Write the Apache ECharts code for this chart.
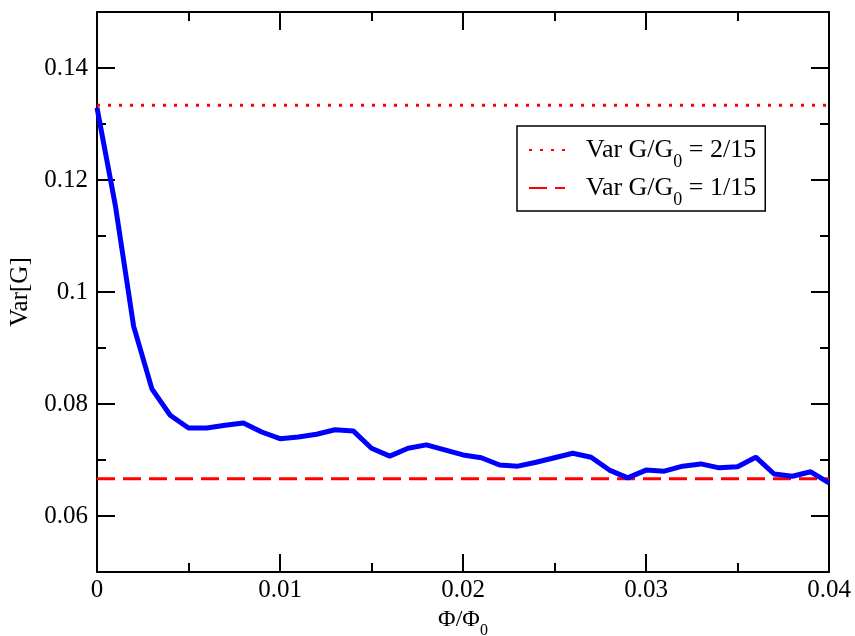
<!DOCTYPE html>
<html>
<head>
<meta charset="utf-8">
<script src="https://cdn.jsdelivr.net/npm/echarts@6/dist/echarts.min.js"></script>
<style>
  html, body { margin: 0; padding: 0; background: #fff; }
  #chart { width: 855px; height: 636px; }
</style>
</head>
<body>
<div id="chart"></div>
<script>
// Flux values Φ/Φ0 and the variance of the conductance at each one
const phi = [
  0.000, 0.001, 0.002, 0.003, 0.004, 0.005, 0.006, 0.007, 0.008, 0.009,
  0.010, 0.011, 0.012, 0.013, 0.014, 0.015, 0.016, 0.017, 0.018, 0.019,
  0.020, 0.021, 0.022, 0.023, 0.024, 0.025, 0.026, 0.027, 0.028, 0.029,
  0.030, 0.031, 0.032, 0.033, 0.034, 0.035, 0.036, 0.037, 0.038, 0.039,
  0.040
];
const varG = [
  0.1329, 0.1155, 0.0939, 0.0827, 0.0780, 0.0757, 0.0757, 0.0762, 0.0766, 0.0750,
  0.0738, 0.0741, 0.0746, 0.0754, 0.0752, 0.0721, 0.0707, 0.0721, 0.0727, 0.0718,
  0.0709, 0.0704, 0.0691, 0.0689, 0.0696, 0.0704, 0.0712, 0.0705, 0.0682, 0.0668,
  0.0682, 0.0680, 0.0689, 0.0693, 0.0686, 0.0688, 0.0705, 0.0675, 0.0671, 0.0679,
  0.0659
];

// Reference levels Var G/G0 = 2/15 and 1/15, spanning the flux range
const refSpan = [0.0, 0.04];
const upperLevel = 2 / 15;
const lowerLevel = 1 / 15;

// Axis ticks
const xTicks = [0, 0.01, 0.02, 0.03, 0.04];
const yMajorTicks = [0.06, 0.08, 0.1, 0.12, 0.14];

const FONT = "'Liberation Serif', 'Times New Roman', serif";
const BLACK = '#000';

const curve = phi.map((p, i) => [p, varG[i]]);
const upperLine = refSpan.map(p => [p, upperLevel]);
const lowerLine = refSpan.map(p => [p, lowerLevel]);

const legendText = {
  upper: '{t|Var G/G}{s|0}{t| = 2/15}',
  lower: '{t|Var G/G}{s|0}{t| = 1/15}'
};

const axisLineStyle = { show: true, lineStyle: { color: BLACK, width: 2 } };

function xAxisBase(position) {
  return {
    type: 'value', position: position, min: 0, max: 0.04, interval: 0.01,
    axisLine: axisLineStyle,
    axisTick: { show: true, inside: true, length: 18, lineStyle: { color: BLACK, width: 2 } },
    minorTick: { show: true, splitNumber: 2, length: 9, lineStyle: { color: BLACK, width: 2 } },
    splitLine: { show: false },
    minorSplitLine: { show: false }
  };
}

function yMinorAxis(position) {
  return {
    type: 'value', position: position, min: 0.05, max: 0.15, interval: 0.01,
    axisLine: { show: false },
    axisTick: { show: true, inside: true, length: 9, lineStyle: { color: BLACK, width: 2 } },
    axisLabel: { show: false },
    splitLine: { show: false }
  };
}

function yMajorAxis(position, withLabels) {
  return {
    type: 'value', position: position, min: 0.05, max: 0.15, interval: 0.01,
    axisLine: axisLineStyle,
    axisTick: { show: true, inside: true, length: 18, customValues: yMajorTicks,
                lineStyle: { color: BLACK, width: 2 } },
    axisLabel: withLabels
      ? { show: true, customValues: yMajorTicks, color: BLACK, fontFamily: FONT, fontSize: 25, margin: 9 }
      : { show: false },
    splitLine: { show: false }
  };
}

const chart = echarts.init(document.getElementById('chart'), null, { renderer: 'canvas' });

const xBottom = xAxisBase('bottom');
xBottom.axisLabel = {
  show: true, customValues: xTicks, color: BLACK, fontFamily: FONT, fontSize: 25, margin: 6
};
xBottom.name = '{a|Φ/Φ}{b|0}';
xBottom.nameLocation = 'middle';
xBottom.nameGap = 22;
xBottom.nameTextStyle = {
  color: BLACK,
  rich: {
    a: { fontFamily: FONT, fontSize: 24, color: BLACK },
    b: { fontFamily: FONT, fontSize: 16, color: BLACK, padding: [22, 0, 0, 0] }
  }
};

const xTop = xAxisBase('top');
xTop.axisLabel = { show: false };

const yLeft = yMajorAxis('left', true);
yLeft.name = 'Var[G]';
yLeft.nameLocation = 'middle';
yLeft.nameGap = 58;
yLeft.nameTextStyle = { color: BLACK, fontFamily: FONT, fontSize: 25 };

chart.setOption({
  animation: false,
  backgroundColor: '#fff',
  grid: { left: 97, right: 26, top: 12, bottom: 64, containLabel: false, outerBoundsMode: 'none' },
  legend: {
    left: 517, top: 126, orient: 'vertical',
    data: ['upper', 'lower'],
    formatter: name => legendText[name],
    itemWidth: 36, itemHeight: 14, itemGap: 4,
    padding: [11, 9, 2, 11],
    borderColor: BLACK, borderWidth: 1.5, borderRadius: 0,
    backgroundColor: '#fff',
    selectedMode: false,
    itemStyle: { opacity: 0, color: 'rgba(0,0,0,0)', borderWidth: 0 },
    textStyle: {
      color: BLACK, fontFamily: FONT, fontSize: 26, padding: [0, 0, 0, 16],
      rich: {
        t: { fontFamily: FONT, fontSize: 26, color: BLACK, lineHeight: 30 },
        s: { fontFamily: FONT, fontSize: 18, color: BLACK, padding: [24, 0, 0, 0] }
      }
    }
  },
  xAxis: [xBottom, xTop],
  yAxis: [
    yLeft,
    yMinorAxis('left'),
    yMajorAxis('right', false),
    yMinorAxis('right')
  ],
  series: [
    {
      name: 'upper', type: 'line', data: upperLine, showSymbol: false, symbol: 'none',
      lineStyle: { color: '#ff0000', width: 3, type: [3, 8] },
      itemStyle: { color: '#ff0000' }, z: 2
    },
    {
      name: 'lower', type: 'line', data: lowerLine, showSymbol: false, symbol: 'none',
      lineStyle: { color: '#ff0000', width: 3, type: [18, 8] },
      itemStyle: { color: '#ff0000' }, z: 2
    },
    {
      name: 'Var[G]', type: 'line', data: curve, showSymbol: false, symbol: 'none',
      lineStyle: { color: '#0000ff', width: 5 },
      itemStyle: { color: '#0000ff' }, z: 3
    }
  ]
});
</script>
</body>
</html>
